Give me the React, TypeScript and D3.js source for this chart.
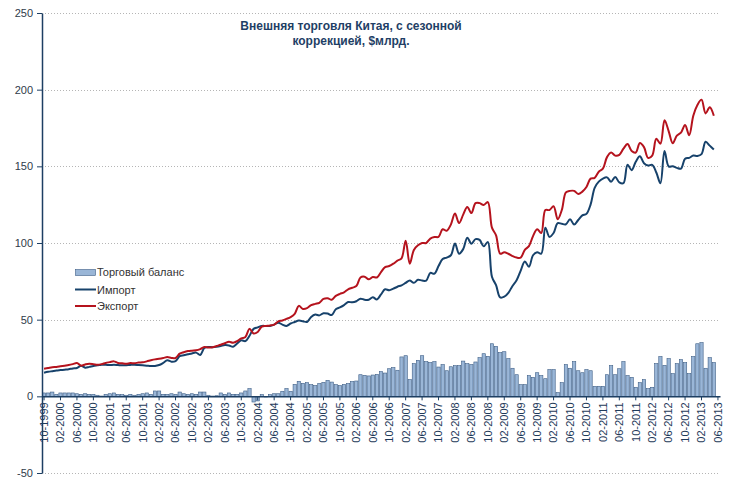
import { useEffect, useRef } from "react";
import * as d3 from "d3";

// подписи оси X (каждые 4 месяца)
const tickLabels = [
  "10-1999", "02-2000", "06-2000", "10-2000", "02-2001", "06-2001", "10-2001",
  "02-2002", "06-2002", "10-2002", "02-2003", "06-2003", "10-2003", "02-2004",
  "06-2004", "10-2004", "02-2005", "06-2005", "10-2005", "02-2006", "06-2006",
  "10-2006", "02-2007", "06-2007", "10-2007", "02-2008", "06-2008", "10-2008",
  "02-2009", "06-2009", "10-2009", "02-2010", "06-2010", "10-2010", "02-2011",
  "06-2011", "10-2011", "02-2012", "06-2012", "10-2012", "02-2013", "06-2013",
];

const yTicks = [-50, 0, 50, 100, 150, 200, 250];

// торговый баланс, $млрд (10-1999 ... 05-2013)
const balance = [
  2.2, 2.2, 2.8, 1.3, 2.2, 2.2, 2.2, 2.2, 1.7, 1.3, 1.7, 1.3,
  1.3, 0.7, 0.2, 1.3, 1.7, 2.2, 1.3, 1.1, 0.7, 1.3, 0.7, 1.3,
  1.7, 2.2, 1.3, 3.5, 3.5, 1.3, 1.3, 1.7, 1.3, 2.8, 1.7, 1.3,
  1.7, 1.3, 2.8, 2.8, 0.7, 0.2, 0.4, 2.2, 1.3, 2.2, 1.3, 1.3,
  2.2, 3.5, 5.0, -3.7, -3.0, 1.1, -0.4, 1.1, 1.7, 1.7, 3.3, 5.0,
  3.3, 7.8, 9.8, 8.5, 8.9, 7.6, 7.0, 8.3, 9.1, 10.4, 9.3, 7.6,
  7.0, 7.8, 8.3, 9.6, 10.0, 14.1, 13.7, 13.3, 13.9, 14.3, 16.1, 15.2,
  18.0, 18.7, 17.0, 25.7, 26.5, 10.9, 21.3, 23.5, 26.5, 22.6, 22.0, 22.6,
  19.1, 20.7, 16.7, 19.3, 20.0, 20.0, 23.0, 21.3, 20.7, 22.4, 25.2, 27.8,
  26.1, 34.3, 32.6, 28.5, 29.1, 24.6, 18.3, 14.1, 7.6, 7.6, 13.5, 12.4,
  15.4, 13.5, 11.5, 17.4, 17.4, 2.4, 8.9, 20.7, 18.3, 22.6, 16.7, 15.4,
  17.4, 16.7, 6.5, 6.5, 6.5, 14.1, 20.0, 14.1, 18.0, 22.6, 13.5, 12.4,
  5.9, 8.9, 10.9, 5.0, 5.9, 21.3, 25.9, 20.2, 24.6, 14.8, 21.3, 23.9,
  22.0, 14.8, 25.9, 34.3, 35.0, 18.3, 25.2, 22.0,
];

// импорт, $млрд
const imports = [
  15.4, 16.0, 16.4, 16.8, 17.1, 17.4, 17.7, 18.2, 18.5, 20.0, 18.7, 19.2,
  19.8, 20.2, 20.6, 20.6, 20.4, 20.6, 20.4, 20.2, 20.3, 20.5, 20.6, 20.4,
  20.2, 20.0, 19.8, 19.8, 20.4, 21.8, 23.5, 22.6, 23.0, 26.2, 26.8, 27.4,
  28.0, 28.5, 27.0, 31.5, 32.2, 32.0, 32.3, 32.8, 33.4, 33.2, 32.4, 34.5,
  36.5, 36.0, 39.5, 44.0, 45.0, 45.9, 45.9, 45.9, 46.8, 48.0, 46.8, 45.9,
  47.5, 48.5, 49.4, 49.0, 48.5, 51.8, 53.3, 52.8, 54.2, 54.0, 53.0, 56.8,
  58.0, 59.5, 61.5, 61.3, 62.0, 63.7, 63.0, 63.0, 64.6, 63.2, 66.5, 69.8,
  69.2, 70.2, 71.5, 72.4, 74.0, 75.6, 74.0, 76.0, 75.5, 75.5, 80.5, 80.0,
  85.0, 89.5, 90.5, 92.0, 99.6, 93.0, 96.0, 103.5, 99.5, 102.5, 102.0, 97.8,
  100.7, 78.0, 72.5, 64.5, 65.0, 67.5, 72.0, 75.7, 82.0, 88.0, 84.5, 92.0,
  94.0, 93.0, 110.0, 104.0, 106.5, 113.0, 112.5, 112.2, 115.5, 112.0, 115.0, 118.0,
  119.0, 125.0, 136.0, 140.0, 142.0, 142.8, 140.0, 143.0, 139.5, 139.0, 151.0, 147.5,
  153.0, 156.5, 152.0, 150.5, 151.0, 146.0, 139.0, 160.0, 150.0, 150.0, 149.0, 148.5,
  155.0, 155.5, 157.0, 156.8, 158.0, 166.0, 163.5, 161.0,
];

// экспорт, $млрд
const exportsSeries = [
  18.0, 18.5, 19.0, 19.2, 19.6, 20.0, 20.4, 21.0, 21.7, 20.0, 20.8, 21.3,
  21.0, 20.6, 21.0, 21.8, 22.3, 22.8, 21.8, 21.5, 21.2, 21.7, 21.6, 22.0,
  22.2, 22.8, 23.5, 24.1, 24.5, 25.0, 25.6, 25.0, 25.0, 27.8, 28.8, 29.5,
  29.8, 30.0, 30.8, 32.2, 31.8, 32.0, 32.8, 33.6, 34.6, 35.6, 35.0, 36.0,
  37.8, 38.7, 44.0, 41.0, 42.0, 45.5, 45.9, 46.2, 46.8, 48.9, 49.5, 50.5,
  51.7, 53.8, 59.0, 57.0, 57.5, 59.5, 60.3, 61.0, 63.5, 64.0, 63.0, 65.5,
  66.8, 67.8, 69.8, 70.8, 71.9, 77.5, 78.0, 76.3, 77.8, 77.5, 81.0, 84.3,
  85.0, 86.5, 88.5, 90.0, 101.5, 86.5, 95.5, 98.5, 100.0, 100.0, 102.9, 103.9,
  104.0, 109.0, 108.0, 112.0, 119.2, 113.0, 118.5, 123.5, 119.5, 126.0, 126.0, 124.8,
  126.7, 110.0, 105.0, 93.0, 94.0, 93.0, 91.5, 90.5, 90.5, 95.5, 98.0, 104.5,
  109.0, 106.5, 121.5, 121.5, 124.0, 115.5, 121.5, 133.0, 134.0, 134.0, 132.0, 133.5,
  136.5, 142.0, 142.5, 146.5, 148.5, 156.0, 159.0, 157.0, 157.5, 161.5, 164.5, 160.0,
  159.0, 165.2, 162.5, 155.5, 157.0, 168.0, 164.8, 180.0, 173.0, 165.0, 170.0, 172.0,
  177.0, 170.3, 183.0, 190.0, 193.5, 184.5, 188.5, 183.0,
];

// категории: 10-1999 ... 06-2013
const months = d3
  .timeMonth.range(new Date(1999, 9, 1), new Date(2013, 6, 1))
  .map(d3.timeFormat("%m-%Y"));

const FONT = "Arial, 'Liberation Sans', sans-serif";
const AXIS = "#1d3f63";
const IMPORT = "#17426b";
const EXPORT = "#b5131d";

function TradeChart() {
  const chartRef = useRef<SVGSVGElement>(null);

  useEffect(() => {
    const svg = d3.select(chartRef.current);
    svg.selectAll("*").remove();

    const left = 42;
    const right = 720;
    const x = d3.scaleBand<string>().domain(months).range([left, right]).padding(0);
    const y = d3.scaleLinear().domain([-50, 250]).range([473, 13]);
    const bw = x.bandwidth();
    const cx = (i: number) => (x(months[i]) as number) + bw / 2;

    // сетка
    svg
      .append("g")
      .selectAll("line")
      .data(yTicks.filter((d) => d !== 0))
      .join("line")
      .attr("x1", left)
      .attr("x2", right)
      .attr("y1", (d) => Math.round(y(d)) + 0.5)
      .attr("y2", (d) => Math.round(y(d)) + 0.5)
      .attr("stroke", "#b5b5b5")
      .attr("stroke-dasharray", "1,2");

    // торговый баланс
    svg
      .append("g")
      .selectAll("rect")
      .data(balance)
      .join("rect")
      .attr("x", (d, i) => (x(months[i]) as number) + bw * 0.1)
      .attr("width", bw * 0.8)
      .attr("y", (d) => y(Math.max(0, d)))
      .attr("height", (d) => Math.abs(y(d) - y(0)))
      .attr("fill", "#9ab6d7")
      .attr("stroke", "#3d5e86")
      .attr("stroke-width", 0.6);

    // ось X
    const xAxis = d3.axisBottom(x).tickValues(tickLabels).tickSize(4).tickSizeOuter(0);
    const gx = svg
      .append("g")
      .attr("transform", `translate(0,${y(0)})`)
      .call(xAxis);
    gx.select(".domain").attr("stroke", AXIS).attr("stroke-width", 1.5);
    gx.selectAll(".tick line").attr("stroke", AXIS);
    gx.selectAll("text")
      .attr("x", -6)
      .attr("y", 0)
      .attr("dy", "0.35em")
      .attr("transform", "rotate(-90)")
      .style("text-anchor", "end")
      .style("font-family", FONT)
      .style("font-size", "11px")
      .attr("fill", "#1f3a5a");

    // линии
    const line = d3
      .line<number>()
      .x((d, i) => cx(i))
      .y((d) => y(d))
      .curve(d3.curveCatmullRom.alpha(0.5));
    svg
      .append("path")
      .datum(imports)
      .attr("fill", "none")
      .attr("stroke", IMPORT)
      .attr("stroke-width", 2)
      .attr("d", line);
    svg
      .append("path")
      .datum(exportsSeries)
      .attr("fill", "none")
      .attr("stroke", EXPORT)
      .attr("stroke-width", 2)
      .attr("d", line);

    // ось Y
    const yAxis = d3
      .axisLeft(y)
      .tickValues(yTicks)
      .tickFormat((d) => String(d))
      .tickSize(5)
      .tickSizeOuter(0)
      .tickPadding(4);
    const gy = svg.append("g").attr("transform", `translate(${left},0)`).call(yAxis);
    gy.select(".domain").attr("stroke", AXIS).attr("stroke-width", 1.5);
    gy.selectAll(".tick line").attr("stroke", AXIS);
    gy.selectAll("text")
      .style("font-family", FONT)
      .style("font-size", "11px")
      .attr("fill", "#2f3b4a");

    // легенда
    const legend = svg.append("g").style("font-family", FONT).style("font-size", "11px");
    legend
      .append("rect")
      .attr("x", 75.5)
      .attr("y", 269.5)
      .attr("width", 20)
      .attr("height", 6)
      .attr("fill", "#9ab6d7")
      .attr("stroke", "#3d5e86")
      .attr("stroke-width", 0.6);
    legend.append("text").attr("x", 97).attr("y", 276).attr("fill", "#333").text("Торговый баланс");
    [
      { label: "Импорт", color: IMPORT, yy: 289.5 },
      { label: "Экспорт", color: EXPORT, yy: 306 },
    ].forEach((d) => {
      legend
        .append("line")
        .attr("x1", 75)
        .attr("x2", 96)
        .attr("y1", d.yy)
        .attr("y2", d.yy)
        .attr("stroke", d.color)
        .attr("stroke-width", 2);
      legend
        .append("text")
        .attr("x", 97)
        .attr("y", d.yy + 4)
        .attr("fill", "#333")
        .text(d.label);
    });

    // заголовок
    const title = svg
      .append("text")
      .attr("text-anchor", "middle")
      .style("font-family", FONT)
      .style("font-size", "12px")
      .style("font-weight", "bold")
      .attr("fill", "#1f3f66");
    title.append("tspan").attr("x", 351).attr("y", 29.5).text("Внешняя торговля Китая, с сезонной");
    title.append("tspan").attr("x", 351).attr("y", 44.5).text("коррекцией, $млрд.");
  }, []);

  return (
    <svg
      ref={chartRef}
      width={740}
      height={486}
      style={{ position: "absolute", left: 0, top: 0, background: "#fff", display: "block" }}
    ></svg>
  );
}

export default function App() {
  return <TradeChart />;
}
